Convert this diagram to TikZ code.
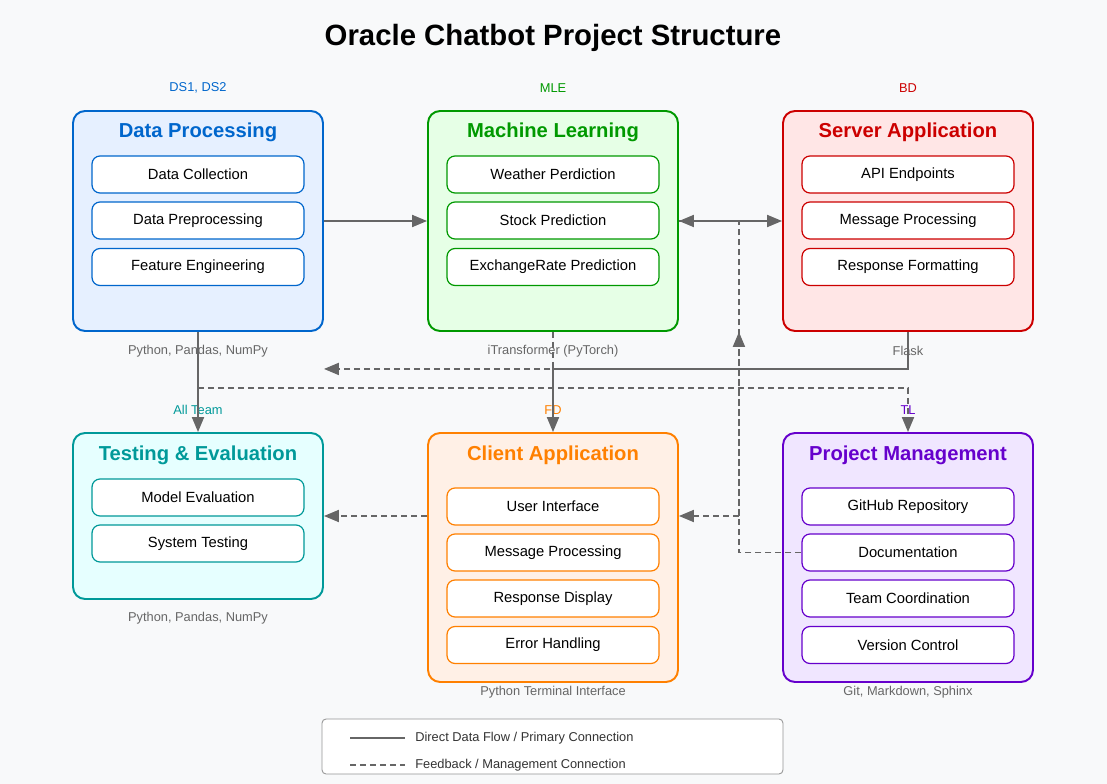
\documentclass[tikz,border=0pt]{standalone}
\usepackage{fontspec}
\setmainfont{Liberation Sans}
\usetikzlibrary{arrows.meta,calc}
\definecolor{pagebg}{HTML}{F8F9FA}
\definecolor{linegray}{HTML}{666666}
\definecolor{dpc}{HTML}{0066CC}\definecolor{dpf}{HTML}{E6F0FF}
\definecolor{mlc}{HTML}{009900}\definecolor{mlf}{HTML}{E6FFE6}
\definecolor{svc}{HTML}{CC0000}\definecolor{svf}{HTML}{FFE6E6}
\definecolor{tec}{HTML}{009999}\definecolor{tef}{HTML}{E6FFFF}
\definecolor{clc}{HTML}{FF8000}\definecolor{clf}{HTML}{FFF0E6}
\definecolor{pmc}{HTML}{6600CC}\definecolor{pmf}{HTML}{F0E6FF}
\begin{document}
\begin{tikzpicture}[x=0.02cm,y=-0.02cm,
    panel/.style={draw=#1c, fill=#1f, rounded corners=0.24cm, line width=1.1pt,
      minimum width=5cm, minimum height=4.4cm},
    ptitle/.style={text=#1, font=\fontsize{11.5}{13}\selectfont\bfseries},
    item/.style={draw=#1, fill=white, rounded corners=0.16cm, line width=0.7pt,
      minimum width=4.24cm, minimum height=0.74cm, font=\fontsize{8.4}{10}\selectfont},
    role/.style={text=#1, font=\fontsize{7.3}{9}\selectfont},
    tech/.style={text=linegray, font=\fontsize{7.3}{9}\selectfont},
    flow/.style={draw=linegray, line width=1.1pt, -{Triangle[length=0.3cm,width=0.24cm]}},
    fb/.style={flow, dash pattern=on 0.12cm off 0.08cm}]
  \useasboundingbox[fill=pagebg] (0,0) rectangle (1107,784);
  % title
  \node[font=\fontsize{16.7}{19}\selectfont\bfseries] (title) at (553,38) {Oracle Chatbot Project Structure};
  % top row
  \node[panel=dp] (dp) at (198,221) {};
  \node[panel=ml] (ml) at (553,221) {};
  \node[panel=sv] (srv) at (908,221) {};
  \node[ptitle=dpc] (dpt) at (198,132) {Data Processing};
  \node[ptitle=mlc] (mlt) at (553,132) {Machine Learning};
  \node[ptitle=svc] (srvt) at (908,132) {Server Application};
  \node[item=dpc] (dcol) at (198,174.5) {Data Collection};
  \node[item=dpc] (dpre) at (198,220.5) {Data Preprocessing};
  \node[item=dpc] (feat) at (198,267) {Feature Engineering};
  \node[item=mlc] (wea) at (553,174.5) {Weather Perdiction};
  \node[item=mlc] (stk) at (553,220.5) {Stock Prediction};
  \node[item=mlc] (exr) at (553,267) {ExchangeRate Prediction};
  \node[item=svc] (api) at (908,174.5) {API Endpoints};
  \node[item=svc] (smsg) at (908,220.5) {Message Processing};
  \node[item=svc] (resf) at (908,267) {Response Formatting};
  \node[role=dpc] (dpr) at (198,88) {DS1, DS2};
  \node[role=mlc] (mlr) at (553,88) {MLE};
  \node[role=svc] (srvr) at (908,88) {BD};
  \node[tech] (dptech) at (198,351) {Python, Pandas, NumPy};
  \node[tech] (mltech) at (553,351) {iTransformer (PyTorch)};
  \node[tech] (srvtech) at (908,351) {Flask};
  % bottom row
  \node[panel=te, minimum height=3.32cm] (test) at (198,516) {};
  \node[panel=cl, minimum height=4.98cm] (cli) at (553,557.5) {};
  \node[panel=pm, minimum height=4.98cm] (pm) at (908,557.5) {};
  \node[ptitle=tec] (testt) at (198,455) {Testing \& Evaluation};
  \node[ptitle=clc] (clit) at (553,455) {Client Application};
  \node[ptitle=pmc] (pmt) at (908,455) {Project Management};
  \node[item=tec] (meval) at (198,497.5) {Model Evaluation};
  \node[item=tec] (stest) at (198,543.5) {System Testing};
  \node[item=clc] (ui) at (553,506.5) {User Interface};
  \node[item=clc] (cmsg) at (553,552.5) {Message Processing};
  \node[item=clc] (rdis) at (553,598.5) {Response Display};
  \node[item=clc] (err) at (553,645) {Error Handling};
  \node[item=pmc] (git) at (908,506.5) {GitHub Repository};
  \node[item=pmc] (doc) at (908,552.5) {Documentation};
  \node[item=pmc] (team) at (908,598.5) {Team Coordination};
  \node[item=pmc] (ver) at (908,645) {Version Control};
  \node[role=tec] (testr) at (198,410) {All Team};
  \node[role=clc] (clir) at (553,410) {FD};
  \node[role=pmc] (pmr) at (908,410) {TL};
  \node[tech] (testtech) at (198,618) {Python, Pandas, NumPy};
  \node[tech] (clitech) at (553,692) {Python Terminal Interface};
  \node[tech] (pmtech) at (908,692) {Git, Markdown, Sphinx};
  % connections
  \coordinate (hub) at ($(ml.east)+(60,0)$);
  \draw[flow] (dp.east) -- (ml.west);
  \draw[flow] (ml.east) -- (srv.west);
  \draw[flow] (dp.south) -- (test.north);
  \draw[flow] (srv.south) -- ++(0,37) -| (cli.north);
  \draw[fb] (ml.south) |- ($(dp.south east)+(0,37)$);
  \draw[fb] ($(dp.south)+(0,56)$) -| (pm.north);
  \draw[fb] (cli.west |- test.east) -- (test.east);
  \draw[fb] (doc.west) -| (hub) -- (ml.east);
  \draw[fb] (hub |- test.east) -- (cli.east |- test.east);
  \draw[fb] (hub |- test.east) -- (hub |- ml.south);
  % legend
  \node[draw=linegray!70, fill=white, rounded corners=0.08cm, line width=0.5pt,
    minimum width=9.22cm, minimum height=1.1cm] (leg) at (552.5,746.5) {};
  \draw[linegray, line width=1.1pt] (350,738) -- (405,738);
  \draw[linegray, line width=1.1pt, dash pattern=on 0.12cm off 0.08cm] (350,765) -- (405,765);
  \node[tech, text=black!80, anchor=west, inner sep=0pt] (legsolid) at (415,738) {Direct Data Flow / Primary Connection};
  \node[tech, text=black!80, anchor=west, inner sep=0pt] (legdash) at (415,765) {Feedback / Management Connection};
\end{tikzpicture}
\end{document}
